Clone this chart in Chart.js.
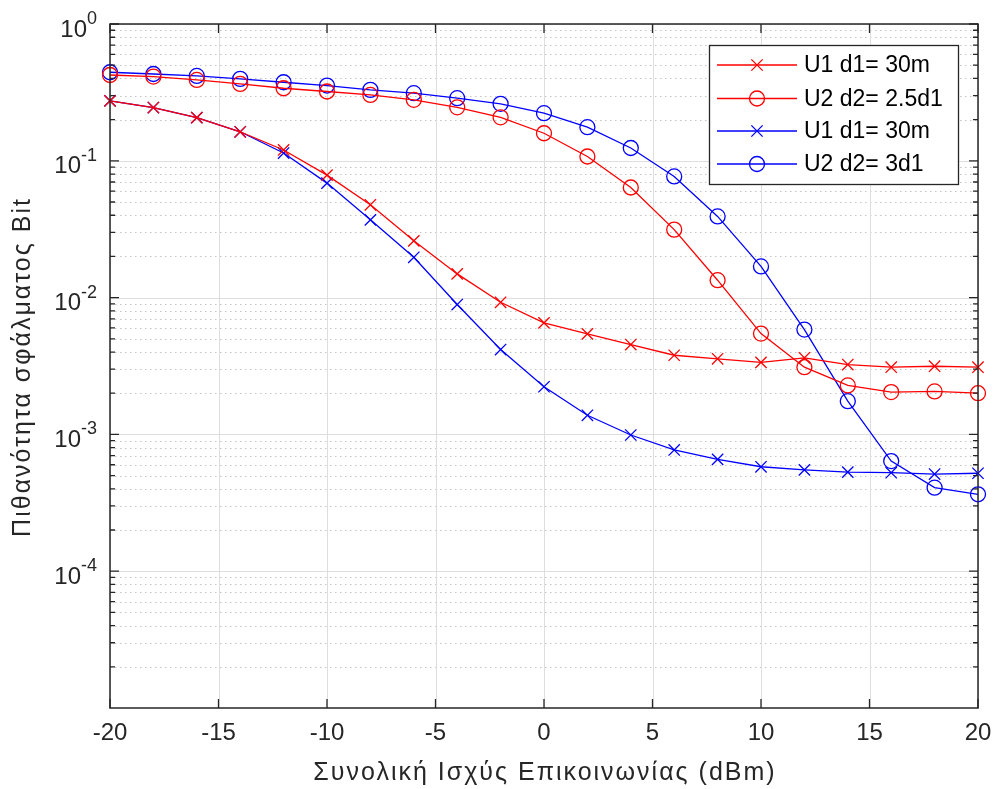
<!DOCTYPE html>
<html>
<head>
<meta charset="utf-8">
<script src="https://cdn.jsdelivr.net/npm/chart.js@4"></script>
<style>
  html, body { margin: 0; padding: 0; background: #fff; }
</style>
</head>
<body>
<canvas id="chart1" width="994" height="789"></canvas>
<script>
// x values (dBm)
const powerDbm = [-20, -18, -16, -14, -12, -10, -8, -6, -4, -2, 0, 2, 4, 6, 8, 10, 12, 14, 16, 18, 20];

// bit error probability per curve
const berU1Red = [0.274, 0.245, 0.207, 0.163, 0.120, 0.0786, 0.0477, 0.026, 0.0149, 0.00924, 0.00653,
    0.00543, 0.00454, 0.00379, 0.00357, 0.00336, 0.00363, 0.00324, 0.0031, 0.00315, 0.0031];
const berU2Red = [0.424, 0.413, 0.39, 0.365, 0.339, 0.321, 0.303, 0.279, 0.246, 0.208, 0.159,
    0.1075, 0.0638, 0.0314, 0.0134, 0.00546, 0.0031, 0.00228, 0.00204, 0.00206, 0.002];
const berU1Blue = [0.274, 0.245, 0.207, 0.163, 0.114, 0.0687, 0.037, 0.0197, 0.0089, 0.00417, 0.00223,
    0.00138, 0.00099, 0.00077, 0.000657, 0.00058, 0.00055, 0.00053, 0.000525, 0.000513, 0.00052];
const berU2Blue = [0.444, 0.431, 0.417, 0.397, 0.375, 0.355, 0.330, 0.312, 0.287, 0.261, 0.223,
    0.176, 0.124, 0.0769, 0.0392, 0.0169, 0.00584, 0.00175, 0.000638, 0.000408, 0.000365];

const seriesLabels = ['U1 d1= 30m', 'U2 d2= 2.5d1', 'U1 d1= 30m', 'U2 d2= 3d1'];

// axis ticks
const xTicks = [-20, -15, -10, -5, 0, 5, 10, 15, 20];
const yExponents = [0, -1, -2, -3, -4];
const yMinorFactors = [2, 3, 4, 5, 6, 7, 8, 9];

const xTitle = 'Συνολική Ισχύς Επικοινωνίας (dBm)';
const yTitle = 'Πιθανότητα σφάλματος Bit';

const FONT = '"Liberation Sans", Arial, Helvetica, sans-serif';
const AXIS_COLOR = '#262626';

function toPoints(ys) {
    return powerDbm.map((x, i) => ({ x: x, y: ys[i] }));
}

function makeSet(label, ys, color, style) {
    return {
        label: label,
        data: toPoints(ys),
        borderColor: color,
        backgroundColor: 'rgba(0,0,0,0)',
        borderWidth: 1.3,
        pointStyle: style,
        pointRadius: style === 'circle' ? 7.5 : 8,
        pointBorderWidth: 1.3,
        pointBorderColor: color,
        pointBackgroundColor: 'rgba(0,0,0,0)',
        tension: 0,
        clip: false
    };
}

// matlab style axes, grid and legend
const gridPlugin = {
    id: 'matlabGrid',
    beforeDatasetsDraw(chart) {
        const ctx = chart.ctx;
        const area = chart.chartArea;
        const xs = chart.scales.x;
        const ys = chart.scales.y;
        ctx.save();
        ctx.lineWidth = 1;

        // minor dotted lines
        ctx.strokeStyle = '#c4c4c4';
        ctx.setLineDash([1.5, 3.5]);
        yExponents.concat([-5]).forEach(e => {
            yMinorFactors.forEach(f => {
                const v = f * Math.pow(10, e);
                if (v >= 1) return;
                const y = Math.round(ys.getPixelForValue(v)) + 0.5;
                ctx.beginPath();
                ctx.moveTo(area.left, y);
                ctx.lineTo(area.right, y);
                ctx.stroke();
            });
        });

        // major solid lines
        ctx.setLineDash([]);
        ctx.strokeStyle = '#dedede';
        yExponents.forEach(e => {
            const y = Math.round(ys.getPixelForValue(Math.pow(10, e))) + 0.5;
            ctx.beginPath();
            ctx.moveTo(area.left, y);
            ctx.lineTo(area.right, y);
            ctx.stroke();
        });
        xTicks.forEach(t => {
            const x = Math.round(xs.getPixelForValue(t)) + 0.5;
            ctx.beginPath();
            ctx.moveTo(x, area.top);
            ctx.lineTo(x, area.bottom);
            ctx.stroke();
        });
        ctx.restore();
    },
    afterDatasetsDraw(chart) {
        const ctx = chart.ctx;
        const area = chart.chartArea;
        const xs = chart.scales.x;
        const ys = chart.scales.y;
        ctx.save();

        // box
        ctx.strokeStyle = AXIS_COLOR;
        ctx.lineWidth = 1.5;
        ctx.strokeRect(area.left, area.top, area.right - area.left, area.bottom - area.top);

        // ticks
        ctx.lineWidth = 1.3;
        const majorLen = 9, minorLen = 5;
        ctx.beginPath();
        xTicks.forEach(t => {
            const x = xs.getPixelForValue(t);
            ctx.moveTo(x, area.bottom);
            ctx.lineTo(x, area.bottom - majorLen);
            ctx.moveTo(x, area.top);
            ctx.lineTo(x, area.top + majorLen);
        });
        yExponents.forEach(e => {
            const y = ys.getPixelForValue(Math.pow(10, e));
            ctx.moveTo(area.left, y);
            ctx.lineTo(area.left + majorLen, y);
            ctx.moveTo(area.right, y);
            ctx.lineTo(area.right - majorLen, y);
        });
        yExponents.concat([-5]).forEach(e => {
            yMinorFactors.forEach(f => {
                const v = f * Math.pow(10, e);
                if (v >= 1) return;
                const y = ys.getPixelForValue(v);
                ctx.moveTo(area.left, y);
                ctx.lineTo(area.left + minorLen, y);
                ctx.moveTo(area.right, y);
                ctx.lineTo(area.right - minorLen, y);
            });
        });
        ctx.stroke();

        // x tick labels
        ctx.fillStyle = AXIS_COLOR;
        ctx.font = '24px ' + FONT;
        ctx.textAlign = 'center';
        ctx.textBaseline = 'middle';
        xTicks.forEach(t => {
            ctx.fillText(String(t), xs.getPixelForValue(t), area.bottom + 25);
        });

        // y tick labels 10^e
        yExponents.forEach(e => {
            const y = ys.getPixelForValue(Math.pow(10, e));
            const right = area.left - 13;
            ctx.font = '18px ' + FONT;
            ctx.textAlign = 'right';
            const expText = String(e);
            ctx.fillText(expText, right, y - 5);
            const w = ctx.measureText(expText).width;
            ctx.font = '24px ' + FONT;
            ctx.fillText('10', right - w, y + 6);
        });

        // axis titles
        ctx.font = '25px ' + FONT;
        ctx.letterSpacing = '2px';
        ctx.textAlign = 'center';
        ctx.fillText(xTitle, (area.left + area.right) / 2 + 1, area.bottom + 65);
        ctx.save();
        ctx.translate(23, (area.top + area.bottom) / 2 + 1);
        ctx.rotate(-Math.PI / 2);
        ctx.fillText(yTitle, 0, 0);
        ctx.restore();
        ctx.letterSpacing = '0px';

        // legend
        const box = { left: 709, top: 45, width: 249, height: 139 };
        ctx.fillStyle = '#ffffff';
        ctx.fillRect(box.left, box.top, box.width, box.height);
        ctx.strokeStyle = AXIS_COLOR;
        ctx.lineWidth = 1.3;
        ctx.strokeRect(box.left + 0.5, box.top + 0.5, box.width, box.height);
        const rowY = [65, 98.5, 131, 164];
        chart.data.datasets.forEach((ds, i) => {
            const y = rowY[i];
            ctx.strokeStyle = ds.borderColor;
            ctx.lineWidth = 1.3;
            ctx.beginPath();
            ctx.moveTo(717, y);
            ctx.lineTo(797, y);
            ctx.stroke();
            ctx.beginPath();
            if (ds.pointStyle === 'circle') {
                ctx.arc(757, y, 7.5, 0, Math.PI * 2);
            } else {
                const d = 8 * Math.SQRT1_2;
                ctx.moveTo(757 - d, y - d);
                ctx.lineTo(757 + d, y + d);
                ctx.moveTo(757 - d, y + d);
                ctx.lineTo(757 + d, y - d);
            }
            ctx.stroke();
            ctx.fillStyle = '#000000';
            ctx.font = '23px ' + FONT;
            ctx.textAlign = 'left';
            ctx.textBaseline = 'middle';
            ctx.fillText(ds.label, 804, y + 1);
        });

        ctx.restore();
    }
};

const ctxBer = document.getElementById('chart1').getContext('2d');

new Chart(ctxBer, {
    type: 'line',
    data: {
        datasets: [
            makeSet(seriesLabels[0], berU1Red, '#ff0000', 'crossRot'),
            makeSet(seriesLabels[1], berU2Red, '#ff0000', 'circle'),
            makeSet(seriesLabels[2], berU1Blue, '#0000ff', 'crossRot'),
            makeSet(seriesLabels[3], berU2Blue, '#0000ff', 'circle')
        ]
    },
    options: {
        responsive: false,
        animation: false,
        devicePixelRatio: 1,
        layout: {
            padding: { left: 110, right: 16, top: 24, bottom: 81 }
        },
        scales: {
            x: {
                type: 'linear',
                min: -20,
                max: 20,
                display: false
            },
            y: {
                type: 'logarithmic',
                min: 1e-5,
                max: 1,
                display: false
            }
        },
        plugins: {
            legend: { display: false },
            tooltip: { enabled: false }
        }
    },
    plugins: [gridPlugin]
});
</script>
</body>
</html>
